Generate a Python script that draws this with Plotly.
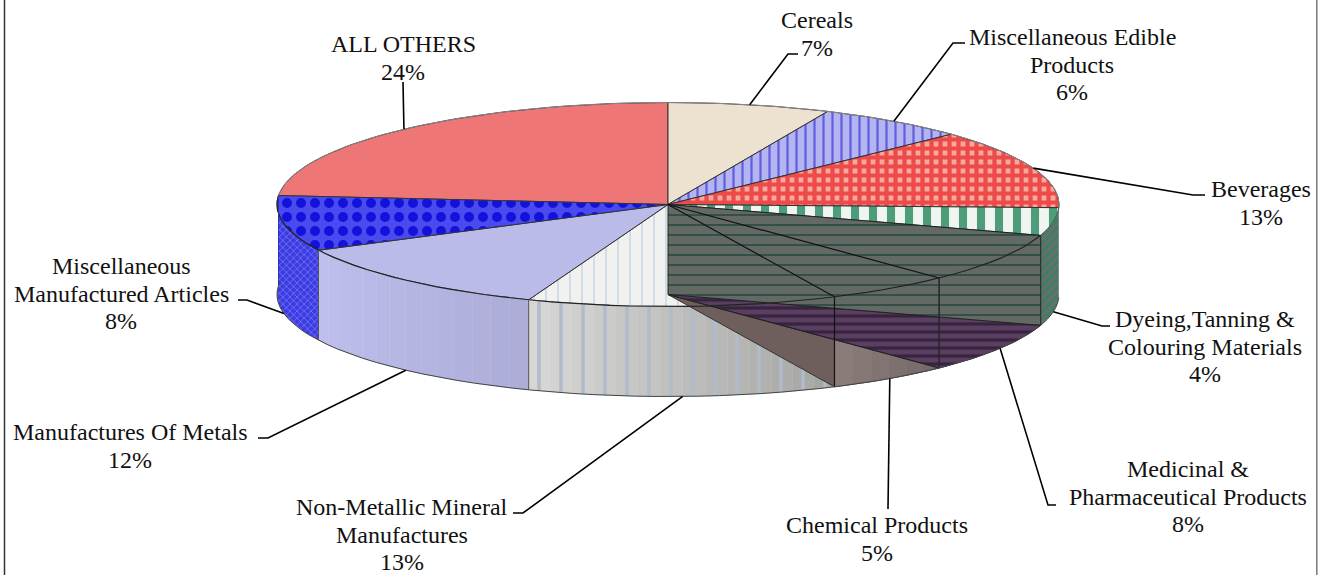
import math
import plotly.graph_objects as go

# ---- data ----
categories = ["Cereals", "Miscellaneous Edible Products", "Beverages",
              "Dyeing,Tanning & Colouring Materials", "Medicinal & Pharmaceutical Products",
              "Chemical Products", "Non-Metallic Mineral Manufactures",
              "Manufactures Of Metals", "Miscellaneous Manufactured Articles", "ALL OTHERS"]
shares = [6.7, 6.2, 12.6, 4.4, 7.9, 5.2, 12.8, 11.8, 8.8, 23.6]
percent_labels = ["7%", "6%", "13%", "4%", "8%", "5%", "13%", "12%", "8%", "24%"]
label_lines = [["Cereals"], ["Miscellaneous Edible", "Products"], ["Beverages"],
               ["Dyeing,Tanning &", "Colouring Materials"], ["Medicinal &", "Pharmaceutical Products"],
               ["Chemical Products"], ["Non-Metallic Mineral", "Manufactures"],
               ["Manufactures Of Metals"], ["Miscellaneous", "Manufactured Articles"], ["ALL OTHERS"]]

# ---- layout of the projected pie, in page pixels ----
CX, CY, RX, RY, DEPTH = 668, 204.5, 391, 102, 90
FONT = "Liberation Serif"
FS = 24
LINE_GAP = 27.6
label_pos = [(817, 20), (1072, 37), (1261, 189), (1205, 319), (1188, 469),
             (877, 525), (402, 507), (130, 432), (121, 266), (403, 44)]
leader_elbow = [(788, 54), (953, 43), (1193, 195), (1102, 326), (1048, 505),
                (888, 509), (523, 513), (268, 438), (247, 300), (403, 82)]
leader_end = [(798, 54), (965, 43), (1205, 195), (1110, 326), (1056, 505),
              (888, 509), (513, 513), (258, 438), (238, 300), (403, 82)]
leader_on_wall = [False, False, False, True, True, True, True, True, True, False]

cum = [0]
for s in shares:
    cum.append(cum[-1] + s)
total = cum[-1]


def pt(pct, z=0):
    a = 2 * math.pi * pct / total
    return CX + RX * math.sin(a), CY - RY * math.cos(a) + z


def arc(p0, p1, z=0, n=60):
    return [pt(p0 + (p1 - p0) * i / n, z) for i in range(n + 1)]


def lerp_color(c0, c1, t):
    a = [int(c0[i:i + 2], 16) for i in (1, 3, 5)]
    b = [int(c1[i:i + 2], 16) for i in (1, 3, 5)]
    return "#%02x%02x%02x" % tuple(round(x + (y - x) * t) for x, y in zip(a, b))


fig = go.Figure()


def poly(pts, color, pattern=None, line=None, lw=1):
    xs = [p[0] for p in pts] + [pts[0][0]]
    ys = [p[1] for p in pts] + [pts[0][1]]
    kw = {}
    if pattern:
        kw["fillpattern"] = dict(shape=pattern[0], fgcolor=pattern[1], bgcolor=color,
                                 size=pattern[2], solidity=pattern[3], fillmode="replace")
    fig.add_trace(go.Scatter(x=xs, y=ys, mode="lines", fill="toself", fillcolor=color,
                             line=dict(color=line or "rgba(0,0,0,0)", width=lw if line else 0),
                             hoverinfo="skip", showlegend=False, **kw))


def stroke(pts, color="#2b2b2b", w=1):
    fig.add_trace(go.Scatter(x=[p[0] for p in pts], y=[p[1] for p in pts], mode="lines",
                             line=dict(color=color, width=w), hoverinfo="skip", showlegend=False))


def sector(i, color, pattern=None, z=0):
    poly([(CX, CY + z)] + arc(cum[i], cum[i + 1], z), color, pattern, "#333333")


def wall(i, c0, c1=None, pattern=None, strips=1):
    c1 = c1 or c0
    for k in range(strips):
        a = cum[i] + shares[i] * k / strips
        b = cum[i] + shares[i] * (k + 1) / strips
        col = lerp_color(c0, c1, k / max(strips - 1, 1))
        poly(arc(a, b) + arc(b, a, DEPTH), col, pattern, col if strips > 1 else None, 0.5)


# top faces
sector(9, "#ee7676")
sector(0, "#ede1cf")
sector(1, "#b4b4f0", ("|", "#5f5fe0", 9, 0.25))
sector(2, "#f6aa9e", ("+", "#ee4a4a", 9, 0.72))
sector(3, "#f0f5f2", ("|", "#4d9c7a", 18, 0.45))
sector(6, "#f1f1ef", ("|", "#c9d9ea", 12, 0.14))
sector(7, "#bbbbe9")
sector(8, "#4a4aee", (".", "#1212dc", 14, 0.4))

# outer walls
wall(8, "#3c3ce4", pattern=("x", "#8080f2", 5, 0.25))
wall(7, "#adadd8", "#bfbfee", strips=14)
wall(6, "#a6a6a4", "#d6d6d4", pattern=("|", "#b0bcc9", 22, 0.16), strips=14)
wall(3, "#3f7d65", pattern=("/", "#6a6f6c", 6, 0.45))

# the two open wedges: floor and wall seen through the missing top face
sector(5, "#6e5f5c", z=DEPTH)
wall(5, "#77686a", "#8a7c78", strips=6)
sector(4, "#5a3f62", ("-", "#38243f", 8, 0.4), z=DEPTH)
wall(4, "#5a3f62", pattern=("-", "#38243f", 8, 0.4))

# inner radial wall behind them
dye_end = cum[4]
poly([(CX, CY), (CX, CY + DEPTH), pt(dye_end, DEPTH), pt(dye_end)],
     "#636965", ("-", "#2a4a40", 10, 0.17), "#222222")

# outlines
for i in (4, 5):
    stroke([(CX, CY), pt(cum[i + 1])], "#111111", 1.2)
    stroke([pt(cum[i + 1]), pt(cum[i + 1], DEPTH)], "#111111", 1.2)
stroke([(CX, CY + DEPTH), pt(cum[5], DEPTH)], "#222222")
stroke(arc(cum[4], cum[9]), "#222222", 1.2)
stroke(arc(cum[9], cum[10] + cum[3]), "#8a8a8a")
stroke(arc(cum[3], cum[9] + 0.8, DEPTH), "#444444")
for i in (3, 4):
    stroke([pt(cum[i + 1]), pt(cum[i + 1], DEPTH)], "#333333")
for i in (7, 8):
    stroke([pt(cum[i]), pt(cum[i], DEPTH)], "#555555")
stroke([pt(cum[9]), pt(cum[9], DEPTH)], "#3030c0")

# leaders
for i in range(len(shares)):
    mid = (cum[i] + cum[i + 1]) / 2
    start = pt(mid, DEPTH if leader_on_wall[i] else 0)
    stroke([start, leader_elbow[i], leader_end[i]], "#000000", 1.6)

# labels
anns = []
for lines, pctl, (lx, ly) in zip(label_lines, percent_labels, label_pos):
    for j, t in enumerate(lines + [pctl]):
        anns.append(dict(x=lx, y=ly + j * LINE_GAP, text=t, showarrow=False, xanchor="center",
                         yanchor="middle", font=dict(family=FONT, size=FS, color="#111111")))

# frame: only the side rules are visible in the picture
stroke([(4.5, 0), (4.5, 575)], "#333333", 1.5)
stroke([(1316.8, 0), (1316.8, 575)], "#777777", 1.5)

fig.update_layout(width=1325, height=575, margin=dict(l=0, r=0, t=0, b=0),
                  paper_bgcolor="white", plot_bgcolor="white", annotations=anns, showlegend=False,
                  xaxis=dict(range=[0, 1325], visible=False, fixedrange=True),
                  yaxis=dict(range=[575, 0], visible=False, fixedrange=True))
fig.write_html("out.html", config=dict(displayModeBar=False),
               post_script="document.body.style.margin='0';document.body.style.overflow='hidden';")
